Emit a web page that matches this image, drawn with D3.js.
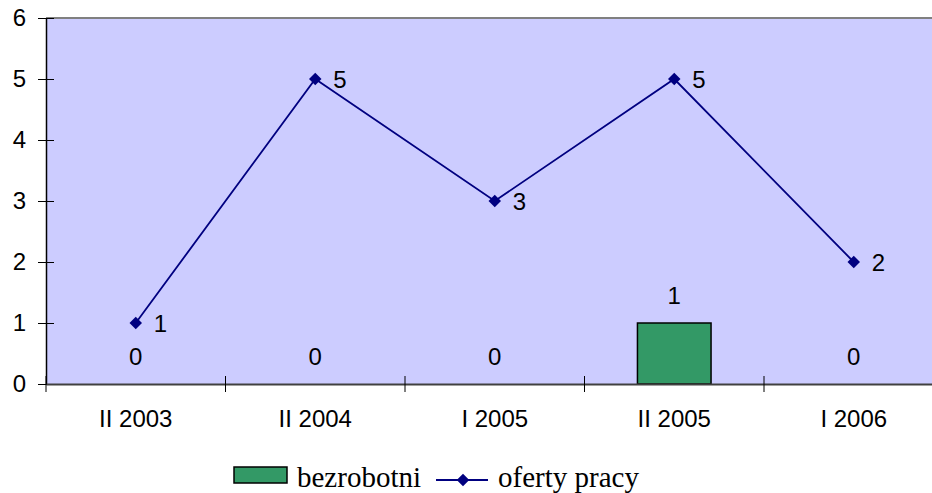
<!DOCTYPE html>
<html>
<head>
<meta charset="utf-8">
<script src="https://cdn.jsdelivr.net/npm/d3@7"></script>
<style>
  body { margin: 0; background: #fff; }
  svg { display: block; overflow: hidden; }
</style>
</head>
<body>
<svg id="chart"></svg>
<script>
// data
const categories = ["II 2003", "II 2004", "I 2005", "II 2005", "I 2006"];
const bezrobotni = [0, 0, 0, 1, 0];
const ofertyPracy = [1, 5, 3, 5, 2];
const yTicks = [0, 1, 2, 3, 4, 5, 6];

const width = 932, height = 493;
const plotLeft = 46, plotRight = 943.5, plotTop = 18, plotBottom = 384;

const svg = d3.select("#chart").attr("width", width).attr("height", height);

const x = d3.scaleBand().domain(categories).range([plotLeft, plotRight]).padding(0);
const y = d3.scaleLinear().domain([0, 6]).range([plotBottom, plotTop]);

// plot background
svg.append("rect")
    .attr("x", plotLeft).attr("y", plotTop)
    .attr("width", plotRight - plotLeft).attr("height", plotBottom - plotTop)
    .attr("fill", "#ccccff");

// top border
svg.append("line")
    .attr("x1", plotLeft).attr("x2", plotRight)
    .attr("y1", plotTop).attr("y2", plotTop)
    .attr("stroke", "#808080").attr("stroke-width", 2);

// bars
const barW = x.bandwidth() * 0.41;
svg.append("g")
    .selectAll("rect")
    .data(categories)
    .enter()
    .append("rect")
    .attr("x", (d) => x(d) + x.bandwidth() / 2 - barW / 2)
    .attr("y", (d, i) => y(bezrobotni[i]))
    .attr("width", barW)
    .attr("height", (d, i) => y(0) - y(bezrobotni[i]))
    .attr("fill", "#339966")
    .attr("stroke", "#000")
    .attr("stroke-width", 1.5);

// bar labels
svg.append("g")
    .selectAll("text")
    .data(categories)
    .enter()
    .append("text")
    .attr("x", (d) => x(d) + x.bandwidth() / 2)
    .attr("y", (d, i) => y(bezrobotni[i]) - 27)
    .attr("dy", "0.35em")
    .attr("text-anchor", "middle")
    .style("font-family", "Arial, 'Liberation Sans', sans-serif")
    .style("font-size", "24px")
    .style("fill", "#000")
    .text((d, i) => bezrobotni[i]);

// y axis
const yAxis = svg.append("g")
    .attr("transform", `translate(${plotLeft},0)`)
    .call(d3.axisLeft(y).tickValues(yTicks).tickFormat(d3.format("d"))
        .tickSize(8).tickSizeOuter(0).tickPadding(12));
yAxis.select(".domain").attr("stroke", "#000").attr("stroke-width", 1.5);
yAxis.selectAll(".tick line").attr("x1", 8).attr("x2", -8).attr("stroke", "#000");
yAxis.selectAll(".tick text")
    .style("font-family", "Arial, 'Liberation Sans', sans-serif")
    .style("font-size", "24px")
    .style("fill", "#000");

// x axis: labels centred under bands, ticks on band boundaries
const xAxis = svg.append("g")
    .attr("transform", `translate(0,${plotBottom})`)
    .call(d3.axisBottom(x).tickSize(0).tickPadding(26));
xAxis.select(".domain").attr("stroke", "#404040").attr("stroke-width", 2);
xAxis.selectAll(".tick text")
    .style("font-family", "Arial, 'Liberation Sans', sans-serif")
    .style("font-size", "24px")
    .style("fill", "#000");

const bounds = categories.map((d) => x(d)).concat([plotRight]);
svg.append("g")
    .selectAll("line")
    .data(bounds)
    .enter()
    .append("line")
    .attr("x1", (d) => d).attr("x2", (d) => d)
    .attr("y1", plotBottom - 8).attr("y2", plotBottom + 8)
    .attr("stroke", "#000");

// line series
const pts = categories.map((d, i) => [x(d) + x.bandwidth() / 2, y(ofertyPracy[i])]);
svg.append("path")
    .attr("d", d3.line()(pts))
    .attr("fill", "none")
    .attr("stroke", "#000080")
    .attr("stroke-width", 1.8);

const diamond = d3.symbol().type(d3.symbolDiamond2).size(100);
svg.append("g")
    .selectAll("path")
    .data(pts)
    .enter()
    .append("path")
    .attr("transform", (d) => `translate(${d[0]},${d[1]})`)
    .attr("d", diamond)
    .attr("fill", "#000080");

svg.append("g")
    .selectAll("text")
    .data(pts)
    .enter()
    .append("text")
    .attr("x", (d) => d[0] + 18)
    .attr("y", (d) => d[1] + 1)
    .attr("dy", "0.35em")
    .style("font-family", "Arial, 'Liberation Sans', sans-serif")
    .style("font-size", "24px")
    .style("fill", "#000")
    .text((d, i) => ofertyPracy[i]);

// legend
const legend = svg.append("g");
legend.append("rect")
    .attr("x", 234).attr("y", 467)
    .attr("width", 53).attr("height", 16)
    .attr("fill", "#339966")
    .attr("stroke", "#000")
    .attr("stroke-width", 1.5);
legend.append("text")
    .attr("x", 297).attr("y", 487)
    .style("font-family", "'Times New Roman', 'Liberation Serif', serif")
    .style("font-size", "29px")
    .style("fill", "#000")
    .text("bezrobotni");
legend.append("line")
    .attr("x1", 436).attr("x2", 488)
    .attr("y1", 480).attr("y2", 480)
    .attr("stroke", "#000080")
    .attr("stroke-width", 1.8);
legend.append("path")
    .attr("transform", "translate(463,480)")
    .attr("d", diamond)
    .attr("fill", "#000080");
legend.append("text")
    .attr("x", 498).attr("y", 487)
    .style("font-family", "'Times New Roman', 'Liberation Serif', serif")
    .style("font-size", "29px")
    .style("fill", "#000")
    .text("oferty pracy");
</script>
</body>
</html>
